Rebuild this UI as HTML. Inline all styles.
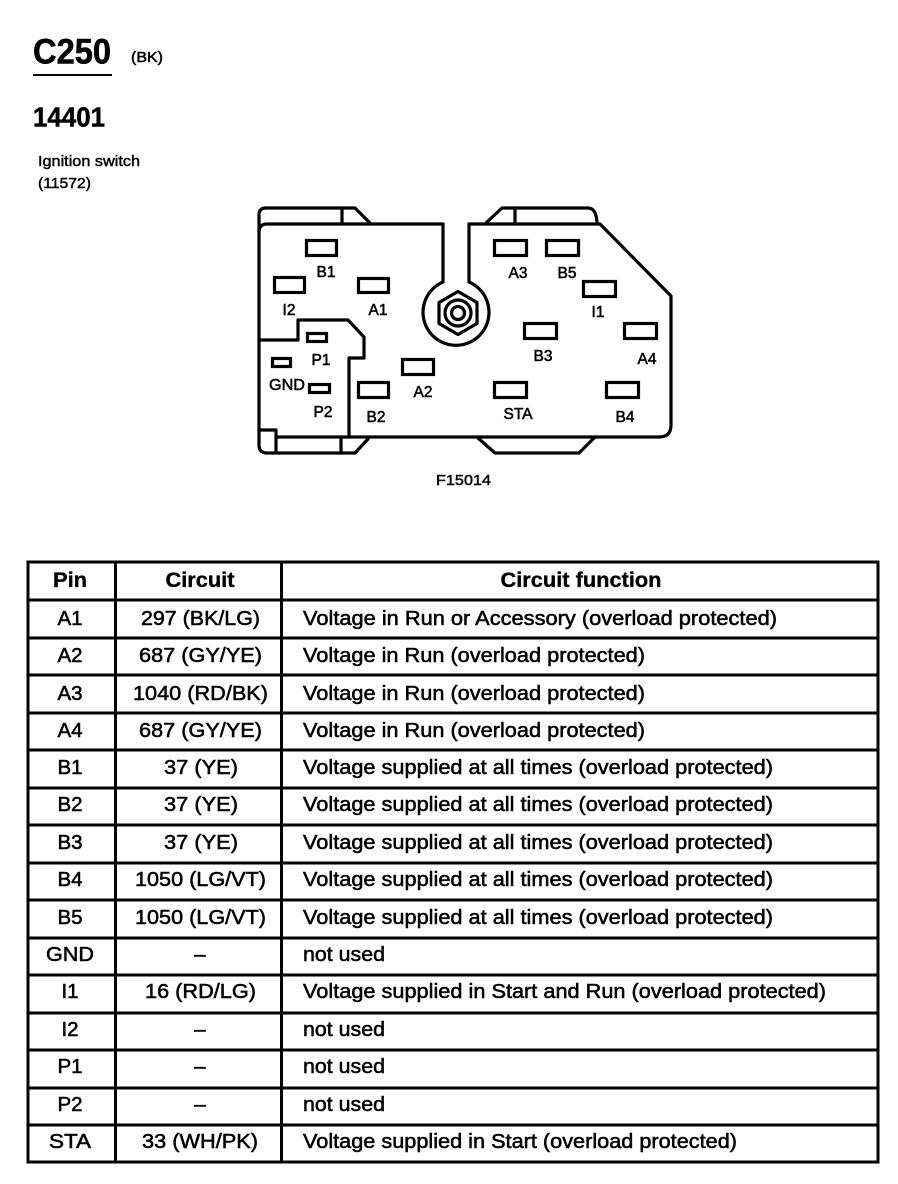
<!DOCTYPE html>
<html>
<head>
<meta charset="utf-8">
<style>
html,body{margin:0;padding:0;background:#fff;width:898px;height:1184px;overflow:hidden}
svg{display:block}
text{font-family:"Liberation Sans",sans-serif;fill:#000}
.l{font-size:15.5px;text-anchor:middle;stroke:#000;stroke-width:.55}
.t{font-size:20.500px;stroke:#000;stroke-width:.55}
.c{text-anchor:middle}
.h{font-weight:bold;font-size:21px;stroke-width:.35}
.ln{fill:none;stroke:#000;stroke-width:3.200;stroke-linejoin:round;stroke-linecap:round}
.s{fill:#fff;stroke:#000;stroke-width:3.200}
.tl{stroke:#000;stroke-width:3}
</style>
</head>
<body>
<svg width="898" height="1184" viewBox="0 0 898 1184" xmlns="http://www.w3.org/2000/svg">
<rect width="898" height="1184" fill="#fff"/>

<!-- Heading -->
<text x="33" y="63.500" font-size="35" font-weight="bold" stroke="#000" stroke-width=".6" textLength="78" lengthAdjust="spacingAndGlyphs">C250</text>
<rect x="33" y="74" width="79" height="2" fill="#000"/>
<text x="131" y="62" font-size="14.500" stroke="#000" stroke-width=".5" textLength="32" lengthAdjust="spacingAndGlyphs">(BK)</text>
<text x="33" y="126.500" font-size="28" font-weight="bold" stroke="#000" stroke-width=".5" textLength="72" lengthAdjust="spacingAndGlyphs">14401</text>
<text x="38" y="166" font-size="15" stroke="#000" stroke-width=".45" textLength="102" lengthAdjust="spacingAndGlyphs">Ignition switch</text>
<text x="38" y="188" font-size="15" stroke="#000" stroke-width=".45" textLength="53" lengthAdjust="spacingAndGlyphs">(11572)</text>

<!-- Connector outline -->
<path class="ln" d="M259 224V215Q259 208 266 208H355L370 223"/>
<path class="ln" d="M342 208V223"/>
<path class="ln" d="M259 232Q259 224 267 224H443M469 224H600L671 296V425Q671 437 659 437H276"/>
<path class="ln" d="M486 223L502 208H588Q596 208 597 222"/>
<path class="ln" d="M515 208V223"/>
<path class="ln" d="M478 438L495 453H579L594 438"/>
<path class="ln" d="M259 224V445Q259 453 267 453H355L368 439"/>
<path class="ln" d="M341 438V453"/>
<path class="ln" d="M259 430H276V453"/>
<path class="ln" d="M259 340H298V320H348L364 337V358H349V437"/>

<!-- Slot and boss -->
<path class="ln" d="M443 224V282A33 33 0 1 0 469 282V224"/>
<path class="ln" d="M458 291.500L477 302.500V323.500L458 334.500L439 323.500V302.500Z"/>
<circle class="ln" cx="458" cy="313" r="13"/>
<circle class="ln" cx="458" cy="313" r="6.500"/>

<!-- Terminals -->
<rect class="s" x="306.500" y="240.500" width="30" height="15"/>
<rect class="s" x="274.500" y="277.500" width="30" height="15"/>
<rect class="s" x="358.500" y="278.500" width="30" height="14"/>
<rect class="s" x="307.500" y="333.500" width="19" height="8"/>
<rect class="s" x="272.500" y="358.500" width="18" height="8"/>
<rect class="s" x="309.500" y="384.500" width="20" height="8"/>
<rect class="s" x="358.500" y="382.500" width="30" height="15"/>
<rect class="s" x="402.500" y="359.500" width="31" height="15"/>
<rect class="s" x="494.500" y="240.500" width="32" height="15"/>
<rect class="s" x="546.500" y="240.500" width="32" height="15"/>
<rect class="s" x="583.500" y="281.500" width="32" height="15"/>
<rect class="s" x="524.500" y="323.500" width="32" height="15"/>
<rect class="s" x="624.500" y="323.500" width="32" height="15"/>
<rect class="s" x="494.500" y="382.500" width="32" height="15"/>
<rect class="s" x="606.500" y="382.500" width="32" height="15"/>

<!-- Terminal labels -->
<text class="l" x="326" y="277">B1</text>
<text class="l" x="289" y="315">I2</text>
<text class="l" x="378" y="315">A1</text>
<text class="l" x="321" y="365">P1</text>
<text class="l" x="287" y="390" textLength="36" lengthAdjust="spacingAndGlyphs">GND</text>
<text class="l" x="323" y="417">P2</text>
<text class="l" x="376" y="422">B2</text>
<text class="l" x="423" y="397">A2</text>
<text class="l" x="518" y="278">A3</text>
<text class="l" x="567" y="278">B5</text>
<text class="l" x="598" y="317">I1</text>
<text class="l" x="543" y="361">B3</text>
<text class="l" x="647" y="364">A4</text>
<text class="l" x="518" y="419">STA</text>
<text class="l" x="625" y="422">B4</text>
<text x="436" y="485" font-size="14.500" stroke="#000" stroke-width=".45" textLength="55" lengthAdjust="spacingAndGlyphs">F15014</text>

<!-- Table grid -->
<rect x="28" y="562" width="850" height="600" fill="none" stroke="#000" stroke-width="3"/>
<path class="tl" d="M115.500 562V1162M281.500 562V1162"/>
<path class="tl" d="M28 600H878M28 638H878M28 675H878M28 713H878M28 750H878M28 788H878M28 825H878M28 863H878M28 900H878M28 938H878M28 975H878M28 1013H878M28 1050H878M28 1088H878M28 1125H878"/>

<!-- Table header -->
<text class="t c h" x="70" y="587" textLength="34" lengthAdjust="spacingAndGlyphs">Pin</text>
<text class="t c h" x="200" y="587" textLength="69" lengthAdjust="spacingAndGlyphs">Circuit</text>
<text class="t c h" x="581" y="587" textLength="161" lengthAdjust="spacingAndGlyphs">Circuit function</text>

<!-- Rows -->
<text class="t c" x="70" y="625">A1</text><text class="t c" x="200.500" y="625" textLength="119" lengthAdjust="spacingAndGlyphs">297 (BK/LG)</text><text class="t" x="303" y="625" textLength="474" lengthAdjust="spacingAndGlyphs">Voltage in Run or Accessory (overload protected)</text>
<text class="t c" x="70" y="662">A2</text><text class="t c" x="200.500" y="662" textLength="123" lengthAdjust="spacingAndGlyphs">687 (GY/YE)</text><text class="t" x="303" y="662" textLength="342" lengthAdjust="spacingAndGlyphs">Voltage in Run (overload protected)</text>
<text class="t c" x="70" y="700">A3</text><text class="t c" x="200.500" y="700" textLength="135" lengthAdjust="spacingAndGlyphs">1040 (RD/BK)</text><text class="t" x="303" y="700" textLength="342" lengthAdjust="spacingAndGlyphs">Voltage in Run (overload protected)</text>
<text class="t c" x="70" y="737">A4</text><text class="t c" x="200.500" y="737" textLength="123" lengthAdjust="spacingAndGlyphs">687 (GY/YE)</text><text class="t" x="303" y="737" textLength="342" lengthAdjust="spacingAndGlyphs">Voltage in Run (overload protected)</text>
<text class="t c" x="70" y="774">B1</text><text class="t c" x="201" y="774" textLength="74" lengthAdjust="spacingAndGlyphs">37 (YE)</text><text class="t" x="303" y="774" textLength="470" lengthAdjust="spacingAndGlyphs">Voltage supplied at all times (overload protected)</text>
<text class="t c" x="70" y="811">B2</text><text class="t c" x="201" y="811" textLength="74" lengthAdjust="spacingAndGlyphs">37 (YE)</text><text class="t" x="303" y="811" textLength="470" lengthAdjust="spacingAndGlyphs">Voltage supplied at all times (overload protected)</text>
<text class="t c" x="70" y="849">B3</text><text class="t c" x="201" y="849" textLength="74" lengthAdjust="spacingAndGlyphs">37 (YE)</text><text class="t" x="303" y="849" textLength="470" lengthAdjust="spacingAndGlyphs">Voltage supplied at all times (overload protected)</text>
<text class="t c" x="70" y="886">B4</text><text class="t c" x="200.500" y="886" textLength="131" lengthAdjust="spacingAndGlyphs">1050 (LG/VT)</text><text class="t" x="303" y="886" textLength="470" lengthAdjust="spacingAndGlyphs">Voltage supplied at all times (overload protected)</text>
<text class="t c" x="70" y="924">B5</text><text class="t c" x="200.500" y="924" textLength="131" lengthAdjust="spacingAndGlyphs">1050 (LG/VT)</text><text class="t" x="303" y="924" textLength="470" lengthAdjust="spacingAndGlyphs">Voltage supplied at all times (overload protected)</text>
<text class="t c" x="70" y="961" textLength="48" lengthAdjust="spacingAndGlyphs">GND</text><text class="t c" x="200" y="961">–</text><text class="t" x="303" y="961" textLength="82" lengthAdjust="spacingAndGlyphs">not used</text>
<text class="t c" x="70" y="998">I1</text><text class="t c" x="200.500" y="998" textLength="111" lengthAdjust="spacingAndGlyphs">16 (RD/LG)</text><text class="t" x="303" y="998" textLength="523" lengthAdjust="spacingAndGlyphs">Voltage supplied in Start and Run (overload protected)</text>
<text class="t c" x="70" y="1036">I2</text><text class="t c" x="200" y="1036">–</text><text class="t" x="303" y="1036" textLength="82" lengthAdjust="spacingAndGlyphs">not used</text>
<text class="t c" x="70" y="1073">P1</text><text class="t c" x="200" y="1073">–</text><text class="t" x="303" y="1073" textLength="82" lengthAdjust="spacingAndGlyphs">not used</text>
<text class="t c" x="70" y="1111">P2</text><text class="t c" x="200" y="1111">–</text><text class="t" x="303" y="1111" textLength="82" lengthAdjust="spacingAndGlyphs">not used</text>
<text class="t c" x="70" y="1148" textLength="42" lengthAdjust="spacingAndGlyphs">STA</text><text class="t c" x="200" y="1148" textLength="116" lengthAdjust="spacingAndGlyphs">33 (WH/PK)</text><text class="t" x="303" y="1148" textLength="434" lengthAdjust="spacingAndGlyphs">Voltage supplied in Start (overload protected)</text>
</svg>
</body>
</html>
